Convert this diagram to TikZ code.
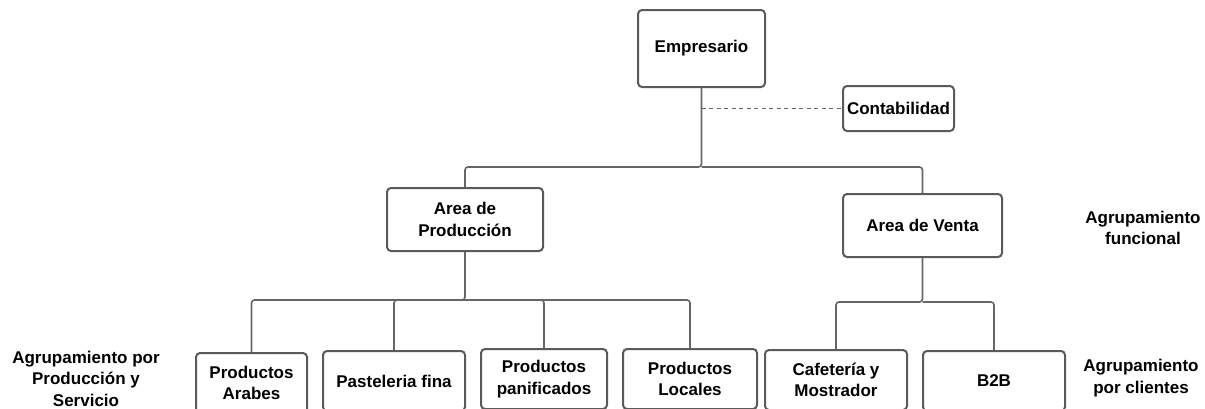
\documentclass[tikz,border=0pt]{standalone}
\usepackage{fontspec}
\setmainfont{Liberation Sans}
\begin{document}
\begin{tikzpicture}[x=1pt,y=-1pt,
  box/.style={draw=boxgray, line width=2pt, rounded corners=4pt, inner sep=0pt, align=center,
    font=\fontsize{17}{21.5}\selectfont\bfseries, fill=white},
  lbl/.style={inner sep=0pt, align=center, font=\fontsize{17}{21.5}\selectfont\bfseries},
  conn/.style={draw=linegray, line width=1.6pt, rounded corners=3pt},
  dashconn/.style={draw=linegray, line width=1.3pt, dash pattern=on 4pt off 3.5pt}]
\definecolor{boxgray}{HTML}{5A5A5A}
\definecolor{linegray}{HTML}{666666}
\useasboundingbox (0,0) rectangle (1205,408);
\clip (0,0) rectangle (1205,408);
% level 0
\node[box, minimum width=127pt, minimum height=77pt] (emp) at (701.5,48.5) {Empresario};
\node[box, minimum width=111pt, minimum height=45pt] (cont) at (898.5,108.5) {Contabilidad};
% level 1
\node[box, minimum width=156pt, minimum height=63pt] (prod) at (465,219.5) {Area de\\Producción};
\node[box, minimum width=159pt, minimum height=63pt] (venta) at (922.5,225.5) {Area de Venta};
% level 2
\node[box, minimum width=111pt, minimum height=60pt] (arabes) at (251.5,383) {Productos\\Arabes};
\node[box, minimum width=142pt, minimum height=60pt] (past) at (394,381) {Pasteleria fina};
\node[box, minimum width=126pt, minimum height=60pt] (panif) at (544,379) {Productos\\panificados};
\node[box, minimum width=134pt, minimum height=60pt] (loc) at (690,379) {Productos\\Locales};
\node[box, minimum width=142pt, minimum height=60pt] (cafe) at (836,380) {Cafetería y\\Mostrador};
\node[box, minimum width=142pt, minimum height=60pt] (b2b) at (994,381) {B2B};
% labels
\node[lbl] (lf) at (1143,228) {Agrupamiento\\funcional};
\node[lbl] (lc) at (1141,378) {Agrupamiento\\por clientes};
\node[lbl] (lp) at (86,378.5) {Agrupamiento por\\Producción y\\Servicio};
% junctions
\coordinate (j0) at (701.5,167);
\coordinate (j1) at (465,300);
\coordinate (j2) at (922.5,302);
% connectors
\draw[conn] (emp.south) -- (j0) -| (prod.north);
\draw[conn] (j0) -| (venta.north);
\draw[dashconn] (emp.south |- cont.west) -- (cont.west);
\draw[conn] (prod.south) -- (j1) -| (arabes.north);
\draw[conn] (j1) -| (past.north);
\draw[conn] (j1) -| (panif.north);
\draw[conn] (j1) -| (loc.north);
\draw[conn] (venta.south) -- (j2) -| (cafe.north);
\draw[conn] (j2) -| (b2b.north);
\end{tikzpicture}
\end{document}
